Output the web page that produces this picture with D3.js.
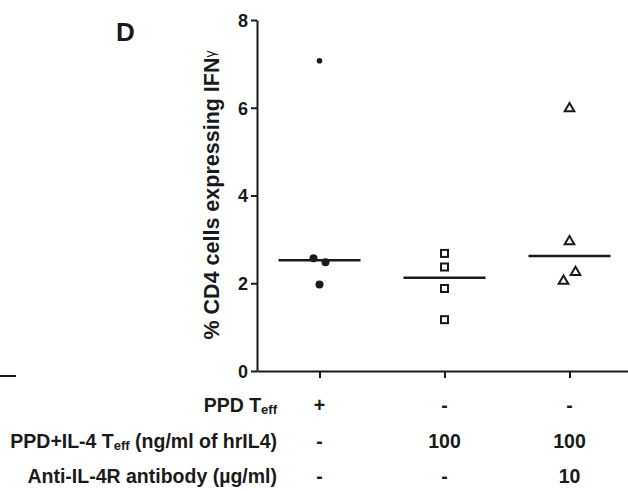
<!DOCTYPE html>
<html><head><meta charset="utf-8">
<script src="https://cdn.jsdelivr.net/npm/d3@7"></script>
<style>
body{margin:0;background:#fff;}
text{font-family:"Liberation Sans",Arial,sans-serif;font-weight:bold;fill:#1a1a1a;}
</style></head>
<body><svg id="c" width="628" height="491"></svg>
<script>
const groups = ["PPD", "PPD+IL4", "PPD+IL4+antiIL4R"];
const circleValues = [7.07, 2.57, 2.48, 1.97];
const squareValues = [2.68, 2.37, 1.88, 1.17];
const triangleValues = [6.0, 2.97, 2.27, 2.07];
const circleSide = [0, -1, 1, 0];
const squareSide = [0, 0, 0, 0];
const triangleSide = [0, 0, 1, -1];
const yTicks = [0, 2, 4, 6, 8];
const rowLabels = ["PPD T", "PPD+IL-4 T", "Anti-IL-4R antibody (µg/ml)"];
const rowValues = [["+", "-", "-"], ["-", "100", "100"], ["-", "-", "10"]];

const svg = d3.select("#c");
const x = d3.scalePoint().domain(groups).range([257, 632]).padding(0.5);
const y = d3.scaleLinear().domain([0, 8]).range([371, 20]);

// panel letter
svg.append("text").attr("x", 116).attr("y", 41).style("font-size", "26px").text("D");
// stray left line
svg.append("line").attr("x1", 0).attr("x2", 16).attr("y1", 376).attr("y2", 376)
  .attr("stroke", "#1a1a1a").attr("stroke-width", 2);

// y axis
const ya = svg.append("g").attr("transform", "translate(257,0)")
  .call(d3.axisLeft(y).tickValues(yTicks).tickSize(6).tickPadding(3).tickSizeOuter(0));
ya.select(".domain").attr("stroke", "#1a1a1a").attr("stroke-width", 2);
ya.selectAll(".tick line").attr("stroke", "#1a1a1a").attr("stroke-width", 2);
ya.selectAll(".tick text").style("font-size", "18px").attr("fill", "#1a1a1a").attr("font-family", null).attr("dy", "0.36em");

// x axis
const xa = svg.append("g").attr("transform", "translate(0,371)")
  .call(d3.axisBottom(x).tickSize(7).tickSizeOuter(0).tickFormat(""));
xa.select(".domain").attr("stroke", "#1a1a1a").attr("stroke-width", 2);
xa.selectAll(".tick line").attr("stroke", "#1a1a1a").attr("stroke-width", 2);

// y title
const yt = svg.append("text").attr("transform", "translate(219,195) rotate(-90)")
  .attr("text-anchor", "middle").style("font-size", "21.5px");
yt.append("tspan").text("% CD4 cells expressing IFN");
yt.append("tspan").style("font-size", "14px").attr("dy", "-0.3em").style("font-weight", "normal").text("γ");

// data
const col = "#1a1a1a";
function pts(vals, side, gi) {
  return vals.map((v, i) => ({x: x(groups[gi]) + side[i] * 6, y: y(v), v}));
}
const c = pts(circleValues, circleSide, 0);
svg.selectAll(".circ").data(c).enter().append("circle")
  .attr("cx", d => d.x).attr("cy", d => d.y).attr("r", d => d.v > 5 ? 2.8 : 4)
  .attr("fill", col);
const s = pts(squareValues, squareSide, 1);
svg.selectAll(".sq").data(s).enter().append("rect")
  .attr("x", d => d.x - 3.5).attr("y", d => d.y - 3.5).attr("width", 7).attr("height", 7)
  .attr("fill", "none").attr("stroke", col).attr("stroke-width", 2);
const t = pts(triangleValues, triangleSide, 2);
const tri = d3.symbol().type(d3.symbolTriangle).size(40);
svg.selectAll(".tri").data(t).enter().append("path")
  .attr("d", tri).attr("transform", d => `translate(${d.x},${d.y + 0.8})`)
  .attr("fill", "none").attr("stroke", col).attr("stroke-width", 2);

// medians
const allVals = [circleValues, squareValues, triangleValues];
svg.selectAll(".med").data(groups).enter().append("line")
  .attr("x1", g => x(g) - 41).attr("x2", g => x(g) + 41)
  .attr("y1", (g, i) => y(d3.median(allVals[i]))).attr("y2", (g, i) => y(d3.median(allVals[i])))
  .attr("stroke", col).attr("stroke-width", 2.5);

// row table
const rowY = [412, 448, 483];
rowLabels.forEach((lab, r) => {
  const tx = svg.append("text").attr("x", 277).attr("y", rowY[r]).attr("text-anchor", "end")
    .style("font-size", "19.5px");
  if (r === 0) {
    tx.append("tspan").text(lab);
    tx.append("tspan").style("font-size", "13px").attr("dy", "2").text("eff");
  } else if (r === 1) {
    tx.append("tspan").text(lab);
    tx.append("tspan").style("font-size", "13px").attr("dy", "2").text("eff");
    tx.append("tspan").attr("dy", "-2").text(" (ng/ml of hrIL4)");
  } else {
    tx.text(lab);
  }
  rowValues[r].forEach((v, gi) => {
    svg.append("text").attr("x", x(groups[gi])).attr("y", rowY[r]).attr("text-anchor", "middle")
      .style("font-size", "19.5px").text(v);
  });
});
</script></body></html>
